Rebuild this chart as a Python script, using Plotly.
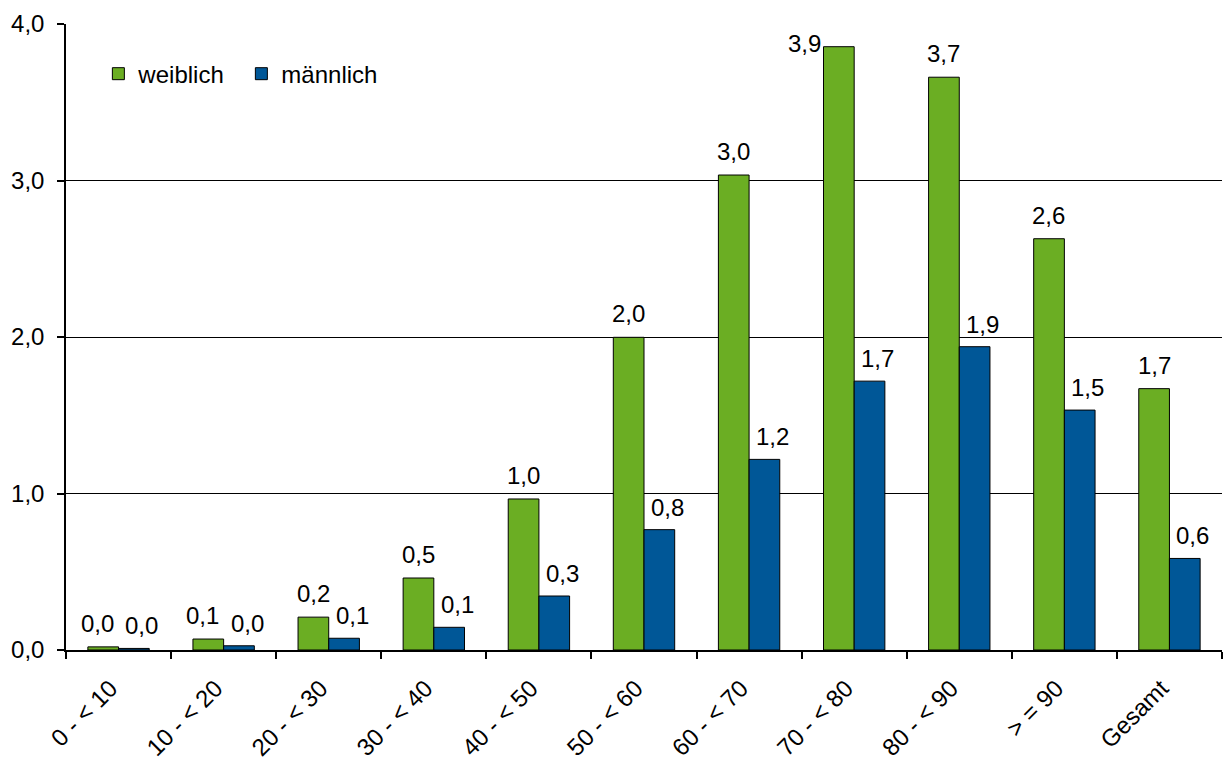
import plotly.graph_objects as go

# Altersgruppen und Werte je Geschlecht
categories = ["0 - < 10", "10 - < 20", "20 - < 30", "30 - < 40", "40 - < 50",
              "50 - < 60", "60 - < 70", "70 - < 80", "80 - < 90", "> = 90", "Gesamt"]
weiblich = [0.02, 0.07, 0.21, 0.46, 0.965, 1.998, 3.035, 3.855, 3.66, 2.628, 1.67]
maennlich = [0.01, 0.027, 0.075, 0.145, 0.345, 0.769, 1.218, 1.718, 1.938, 1.533, 0.585]
y_ticks = [0, 1, 2, 3, 4]

GREEN = "#6BAE23"
BLUE = "#005797"
FONT = "Liberation Sans, Arial, sans-serif"
FS = 24

def fmt(v):
    return f"{v:.1f}".replace(".", ",")

fig = go.Figure()
fig.add_trace(go.Bar(name="weiblich", x=categories, y=weiblich,
                     marker=dict(color=GREEN, line=dict(color="black", width=1))))
fig.add_trace(go.Bar(name="männlich", x=categories, y=maennlich,
                     marker=dict(color=BLUE, line=dict(color="black", width=1))))

# Wertebeschriftungen über den Balken
half = 15.4
annotations = []
for i, (cat, v) in enumerate(zip(categories, weiblich)):
    xs, ys = -half, 8
    if i < 2:
        xs -= 6
    if v > 3.8:  # Beschriftung links neben den Balken verschoben
        xs, ys = -half - 34, -12
    annotations.append(dict(x=cat, y=v, text=fmt(v), showarrow=False,
                            xref="x", yref="y", yanchor="bottom",
                            xshift=xs, yshift=ys,
                            font=dict(family=FONT, size=FS, color="black")))
for cat, v in zip(categories, maennlich):
    annotations.append(dict(x=cat, y=v, text=fmt(v), showarrow=False,
                            xref="x", yref="y", yanchor="bottom",
                            xshift=half + 8, yshift=7,
                            font=dict(family=FONT, size=FS, color="black")))

fig.update_layout(
    width=1225, height=758,
    margin=dict(l=66, r=3, t=24, b=108),
    paper_bgcolor="white", plot_bgcolor="white",
    font=dict(family=FONT, size=FS, color="black"),
    barmode="group", bargap=0.416, bargroupgap=0,
    separators=", ",
    showlegend=True,
    legend=dict(orientation="h", x=0.028, y=0.92, xanchor="left", yanchor="middle",
                bgcolor="rgba(0,0,0,0)", font=dict(family=FONT, size=FS),
                itemwidth=30, entrywidth=98, tracegroupgap=0),
    annotations=annotations,
)
fig.update_xaxes(type="category", tickson="boundaries", ticks="outside", ticklen=7,
                 tickcolor="black", tickwidth=1.5, showline=True, linecolor="black",
                 linewidth=1.5, tickangle=-45, showgrid=False, automargin=False,
                 ticklabelstandoff=13, ticklabelshift=-8,
                 tickfont=dict(family=FONT, size=FS))
fig.update_yaxes(range=[0, 4], tickvals=y_ticks, tickformat=".1f", ticks="outside",
                 ticklen=7, tickcolor="black", tickwidth=1.5, showline=True,
                 linecolor="black", linewidth=1.5, showgrid=True, gridcolor="black",
                 gridwidth=1.2, zeroline=False, ticklabelstandoff=8, automargin=False,
                 tickfont=dict(family=FONT, size=FS))

fig.write_html("out.html")
